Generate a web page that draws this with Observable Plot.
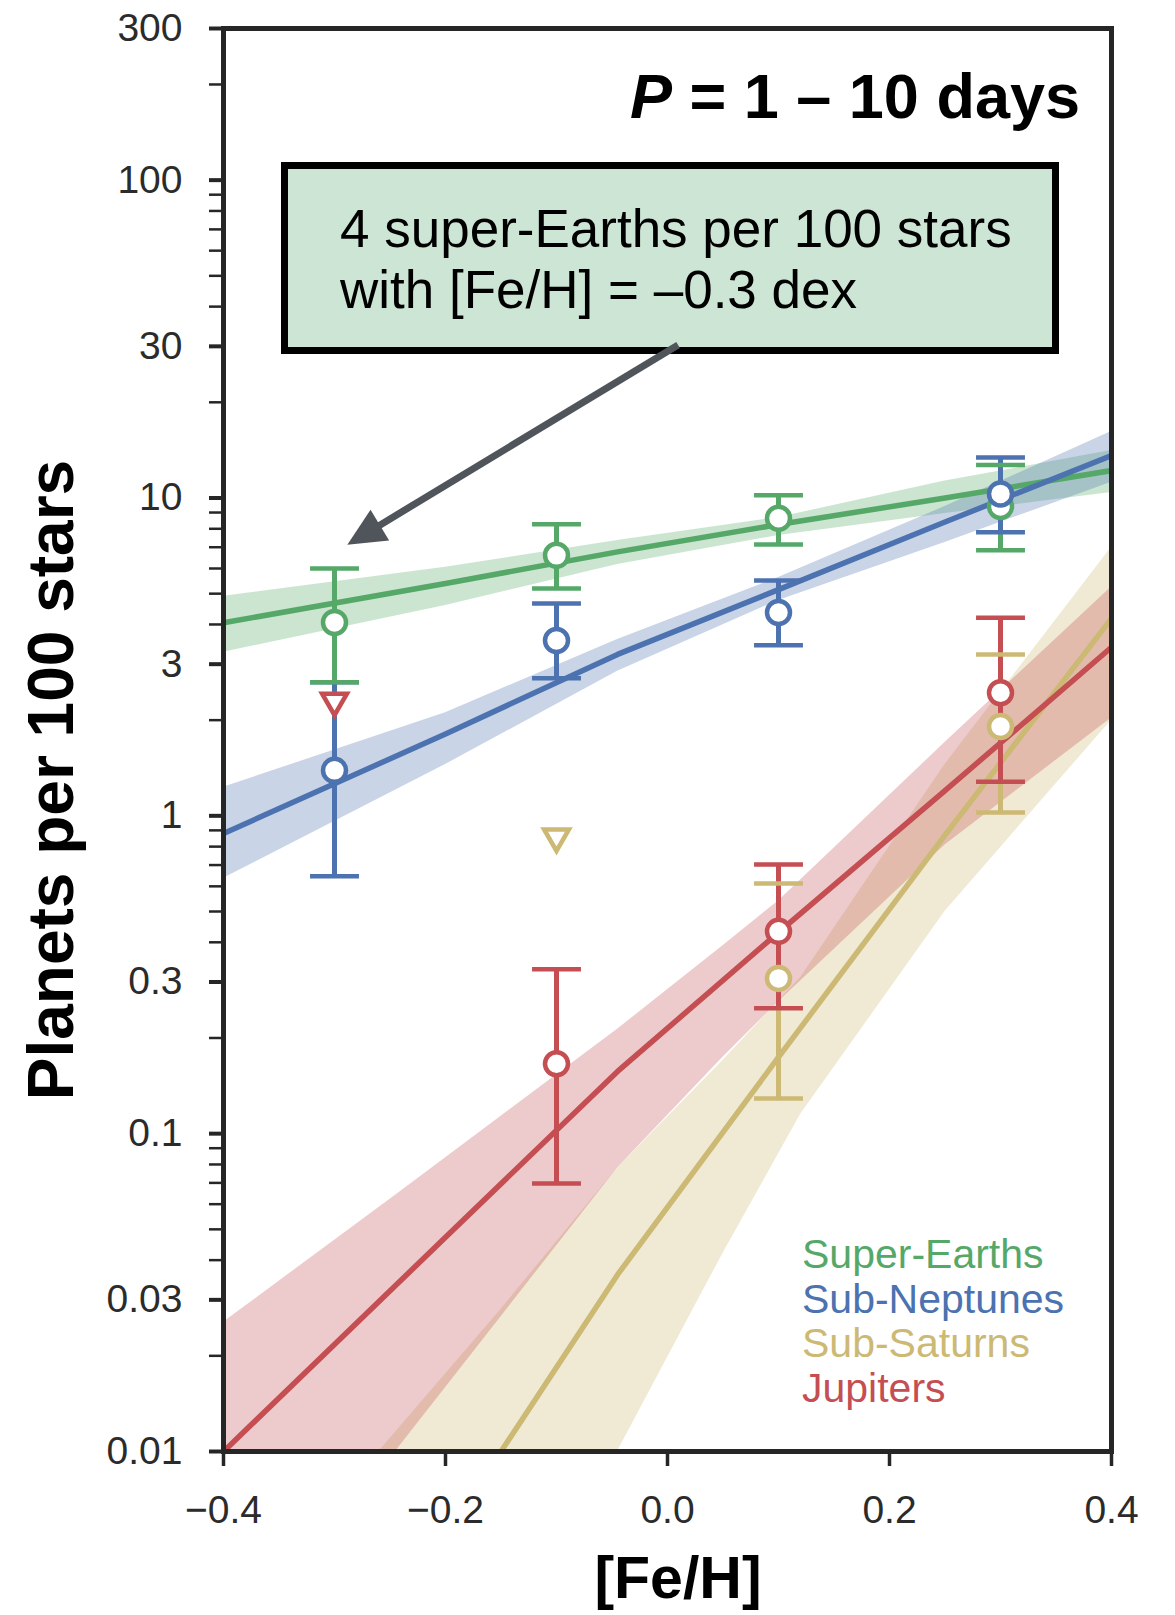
<!DOCTYPE html>
<html><head><meta charset="utf-8">
<script src="https://cdn.jsdelivr.net/npm/d3@7"></script>
<script src="https://cdn.jsdelivr.net/npm/@observablehq/plot@0.6"></script>
<style>body{margin:0;background:#fff} svg{display:block}</style>
</head><body><div id="chart"></div>
<script>
// ---------- data ----------
const feBins = [-0.3, -0.1, 0.1, 0.3];
const seriesNames = ["Super-Earths", "Sub-Neptunes", "Sub-Saturns", "Jupiters"];
const seriesColors = ["#55a868", "#4c72b0", "#ccb974", "#c44e52"];

// binned occurrence (planets per 100 stars) with error bars; null = no point
const seVal = [4.06, 6.6, 8.63, 9.4];
const seLo  = [2.63, 5.19, 7.14, 6.85];
const seHi  = [6.0, 8.26, 10.2, 12.7];
const seLim = [null, null, null, null];

const snVal = [1.39, 3.56, 4.36, 10.3];
const snLo  = [0.645, 2.71, 3.44, 7.8];
const snHi  = [2.63, 4.66, 5.5, 13.4];
const snLim = [null, null, null, null];

const ssVal = [null, null, 0.308, 1.91];
const ssLo  = [null, null, 0.129, 1.025];
const ssHi  = [null, null, 0.612, 3.22];
const ssLim = [null, 0.86, null, null];   // upper limits

const juVal = [null, 0.166, 0.433, 2.44];
const juLo  = [null, 0.0697, 0.248, 1.28];
const juHi  = [null, 0.329, 0.703, 4.2];
const juLim = [2.3, null, null, null];

// power-law fits and their bands (read at a few [Fe/H] values)
const seFitFe  = [-0.4, -0.2, -0.045, 0.1, 0.25, 0.4];
const seFit    = [4.05, 5.38, 6.77, 8.25, 10.0, 12.2];
const seBandFe = [-0.4, -0.2, -0.045, 0.1, 0.25, 0.4];
const seBandLo = [3.27, 4.59, 6.18, 7.62, 8.94, 10.4];
const seBandHi = [4.91, 6.05, 7.35, 8.68, 11.3, 14.1];

const snFitFe  = [-0.4, -0.2, -0.045, 0.1, 0.25, 0.4];
const snFit    = [0.88, 1.81, 3.22, 5.15, 8.4, 13.6];
const snBandFe = [-0.4, -0.2, -0.045, 0.1, 0.25, 0.4];
const snBandLo = [0.636, 1.45, 2.85, 4.76, 7.25, 11.2];
const snBandHi = [1.23, 2.11, 3.59, 5.62, 9.4, 16.2];

const ssFitFe  = [-0.15, -0.045, 0.1, 0.25, 0.4];
const ssFit    = [0.01, 0.036, 0.174, 0.87, 4.18];
const ssBandFe = [-0.26, -0.15, -0.045, 0.05, 0.12, 0.25, 0.4];
const ssBandLo = [0.01, 0.01, 0.01, 0.042, 0.115, 0.5, 2.0];
const ssBandHi = [0.01, 0.028, 0.078, 0.17, 0.31, 1.45, 7.0];

const juFitFe  = [-0.4, -0.2, -0.045, 0.1, 0.25, 0.4];
const juFit    = [0.01, 0.0472, 0.157, 0.43, 1.2, 3.39];
const juBandFe = [-0.4, -0.245, -0.045, 0.05, 0.1, 0.25, 0.4];
const juBandLo = [0.01, 0.01, 0.078, 0.174, 0.26, 0.81, 2.03];
const juBandHi = [0.0255, 0.064, 0.213, 0.39, 0.54, 1.7, 5.25];

// axis ticks
const xTicks = [-0.4, -0.2, 0.0, 0.2, 0.4];
const yTicksMajor = [0.01, 0.03, 0.1, 0.3, 1, 3, 10, 30, 100, 300];
const yTicksMinor = [0.01, 0.1, 1, 10, 100].flatMap(d => [2, 4, 5, 6, 7, 8, 9].map(k => +(k * d).toPrecision(3))).filter(v => v < 300);

// annotation
const titleItalic = "P";
const titleRest = " = 1 \u2013 10 days";
const noteLines = ["4 super-Earths per 100 stars", "with [Fe/H] = \u20130.3 dex"];
const arrowFrom = [0.01, 30.2];
const arrowTo = [-0.288, 7.1];
const xLabel = "[Fe/H]";
const yLabel = "Planets per 100 stars";

// ---------- build tables ----------
const raw = [
  [seVal, seLo, seHi, seLim, seFitFe, seFit, seBandFe, seBandLo, seBandHi],
  [snVal, snLo, snHi, snLim, snFitFe, snFit, snBandFe, snBandLo, snBandHi],
  [ssVal, ssLo, ssHi, ssLim, ssFitFe, ssFit, ssBandFe, ssBandLo, ssBandHi],
  [juVal, juLo, juHi, juLim, juFitFe, juFit, juBandFe, juBandLo, juBandHi]
];
const series = raw.map((r, i) => ({
  name: seriesNames[i], color: seriesColors[i],
  val: r[0], lo: r[1], hi: r[2], lim: r[3],
  fit: r[4].map((f, j) => ({fe: f, v: r[5][j]})),
  band: r[6].map((f, j) => ({fe: f, lo: r[7][j], hi: r[8][j]}))
}));
const points = series.flatMap(s => feBins.map((f, i) => ({fe: f, v: s.val[i], lo: s.lo[i], hi: s.hi[i], color: s.color})).filter(d => d.v != null));
const limits = series.flatMap(s => feBins.map((f, i) => ({fe: f, v: s.lim[i], color: s.color})).filter(d => d.v != null));

const capSymbol = {draw(ctx, size) { const w = Math.sqrt(size); ctx.moveTo(-w / 2, 0); ctx.lineTo(w / 2, 0); }};
const downTriangle = {draw(ctx, size) {
  const s = Math.sqrt(4 * size / Math.sqrt(3)), h = s * Math.sqrt(3) / 2;
  ctx.moveTo(-s / 2, -h / 3); ctx.lineTo(s / 2, -h / 3); ctx.lineTo(0, 2 * h / 3); ctx.closePath();
}};

const FONT = "Liberation Sans, Arial, Helvetica, sans-serif";
const INK = "#262626";

const plot = Plot.plot({
  width: 1175, height: 1615,
  marginLeft: 223, marginRight: 64, marginTop: 28, marginBottom: 164,
  style: {fontFamily: FONT, background: "white"},
  x: {domain: [-0.4, 0.4]},
  y: {type: "log", domain: [0.01, 300]},
  color: {type: "identity"},
  marks: [
    ...series.map(s => Plot.areaY(s.band, {x: "fe", y1: "lo", y2: "hi", fill: s.color, fillOpacity: 0.3, clip: true})),
    ...series.map(s => Plot.line(s.fit, {x: "fe", y: "v", stroke: s.color, strokeWidth: 5.5, clip: true})),
    Plot.ruleX(points, {x: "fe", y1: "lo", y2: "hi", stroke: "color", strokeWidth: 5}),
    Plot.dot(points, {x: "fe", y: "hi", symbol: capSymbol, r: 27.6, fill: "none", stroke: "color", strokeWidth: 4.5}),
    Plot.dot(points, {x: "fe", y: "lo", symbol: capSymbol, r: 27.6, fill: "none", stroke: "color", strokeWidth: 4.5}),
    Plot.dot(points, {x: "fe", y: "v", r: 11.5, fill: "white", stroke: "color", strokeWidth: 4.5}),
    Plot.dot(limits, {x: "fe", y: "v", symbol: downTriangle, r: 9.2, fill: "white", stroke: "color", strokeWidth: 4.5}),
    Plot.axisY(yTicksMinor, {tickSize: 14, tickFormat: () => "", strokeWidth: 2.5, stroke: INK, label: null}),
    Plot.axisY(yTicksMajor, {tickSize: 14, tickPadding: 27, tickFormat: d => String(d), fontSize: 39, strokeWidth: 4, stroke: INK, fill: "#2b2b2b", label: null}),
    Plot.axisX(xTicks, {tickSize: 15, tickPadding: 29, tickFormat: d3.format(".1f"), fontSize: 39, strokeWidth: 3.5, stroke: INK, fill: "#2b2b2b", label: null}),
    Plot.frame({stroke: INK, strokeWidth: 5})
  ]
});
document.getElementById("chart").appendChild(plot);

// ---------- annotations ----------
const svg = d3.select(plot);
const xs = plot.scale("x"), ys = plot.scale("y");

// title
const t = svg.append("text").attr("x", 1080).attr("y", 118).attr("text-anchor", "end")
  .attr("font-family", FONT).attr("font-size", 63).attr("font-weight", "bold").attr("fill", "#000");
t.append("tspan").attr("font-style", "italic").text(titleItalic);
t.append("tspan").text(titleRest);

// note box
svg.append("rect").attr("x", 284.5).attr("y", 165.5).attr("width", 771).attr("height", 185)
  .attr("fill", "#cce5d4").attr("stroke", "#000").attr("stroke-width", 7);
noteLines.forEach((line, i) => {
  svg.append("text").attr("x", 340).attr("y", 247 + i * 61).attr("text-anchor", "start")
    .attr("font-family", FONT).attr("font-size", 53).attr("fill", "#000").text(line);
});

// arrow
{
  const x1 = xs.apply(arrowFrom[0]), y1 = ys.apply(arrowFrom[1]);
  const x2 = xs.apply(arrowTo[0]), y2 = ys.apply(arrowTo[1]);
  const L = Math.hypot(x2 - x1, y2 - y1), ux = (x2 - x1) / L, uy = (y2 - y1) / L;
  const headLen = 38, headHalf = 18;
  const bx = x2 - ux * headLen, by = y2 - uy * headLen;
  svg.append("line").attr("x1", x1).attr("y1", y1).attr("x2", bx + ux * 2).attr("y2", by + uy * 2)
    .attr("stroke", "#50555b").attr("stroke-width", 7);
  svg.append("path").attr("d", `M${x2},${y2}L${bx - uy * headHalf},${by + ux * headHalf}L${bx + uy * headHalf},${by - ux * headHalf}Z`)
    .attr("fill", "#50555b");
}

// legend
series.forEach((s, i) => {
  svg.append("text").attr("x", 802).attr("y", 1268 + i * 44.7).attr("text-anchor", "start")
    .attr("font-family", FONT).attr("font-size", 41).attr("fill", s.color).text(s.name);
});

// axis titles
svg.append("text").attr("x", 678).attr("y", 1598).attr("text-anchor", "middle")
  .attr("font-family", FONT).attr("font-size", 59).attr("font-weight", "bold").attr("fill", "#000").text(xLabel);
svg.append("text").attr("transform", "translate(73,780) rotate(-90)").attr("text-anchor", "middle")
  .attr("font-family", FONT).attr("font-size", 64).attr("font-weight", "bold").attr("fill", "#000").text(yLabel);
</script></body></html>
